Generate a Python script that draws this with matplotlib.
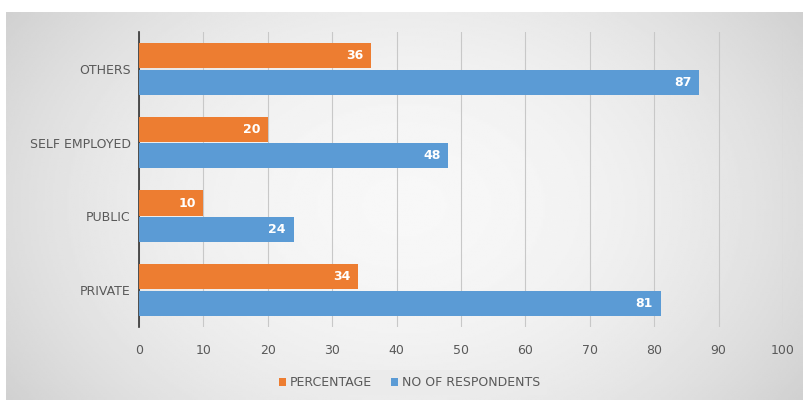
import matplotlib
matplotlib.use("Agg")
import matplotlib.pyplot as plt
import numpy as np

categories = ["PRIVATE", "PUBLIC", "SELF EMPLOYED", "OTHERS"]
percentage = [34, 10, 20, 36]
respondents = [81, 24, 48, 87]
xticks = [0, 10, 20, 30, 40, 50, 60, 70, 80, 90, 100]

plt.rcParams['font.family'] = ['Liberation Sans Narrow', 'DejaVu Sans']

orange = "#ED7D31"
blue = "#5B9BD5"

fig = plt.figure(figsize=(8.06, 4.05), dpi=100)
fig.patch.set_facecolor("white")

# gradient backdrop of the chart area
bg = fig.add_axes([0.008, 0.012, 0.988, 0.958])
yy, xx = np.mgrid[-1:1:200j, -1:1:400j]
r = np.sqrt((xx * 0.9) ** 2 + (yy * 0.6) ** 2)
shade = 0.97 - 0.13 * np.clip(r, 0, 1.3) ** 2
bg.imshow(shade, cmap="gray", vmin=0, vmax=1, aspect="auto", extent=[0, 1, 0, 1])
bg.set_axis_off()

ax = fig.add_axes([0.1725, 0.193, 0.799, 0.728])
ax.patch.set_alpha(0)

y = np.arange(len(categories))
h = 0.34
bo = ax.barh(y + h / 2 + 0.01, percentage, height=h, color=orange, label="PERCENTAGE", zorder=3)
bb = ax.barh(y - h / 2 - 0.01, respondents, height=h, color=blue, label="NO OF RESPONDENTS", zorder=3)

for bars in (bo, bb):
    for rect in bars:
        w = rect.get_width()
        ax.text(w - 1.2, rect.get_y() + rect.get_height() / 2, f"{int(w)}",
                ha="right", va="center", color="white", fontsize=9, fontweight="bold", zorder=4)

ax.set_xlim(0, 100)
ax.set_ylim(-0.5, len(categories) - 0.5)
ax.set_xticks(xticks)
ax.set_yticks(y)
ax.set_yticklabels(categories)
ax.tick_params(axis="both", length=0, labelsize=9, colors="#595959", pad=6)
ax.tick_params(axis="x", pad=12)
ax.xaxis.grid(True, color="#C8C8C8", linewidth=0.8, zorder=0)
for s in ("top", "right", "bottom"):
    ax.spines[s].set_visible(False)
ax.spines["left"].set_color("#333333")
ax.spines["left"].set_linewidth(1.2)

leg = fig.legend(handles=[bo, bb], loc="center", bbox_to_anchor=(0.508, 0.055), ncol=2,
                 frameon=True, fontsize=9, handlelength=0.6, handleheight=0.6,
                 handletextpad=0.3, columnspacing=1.5, borderpad=0.5)
leg.get_frame().set_facecolor("#EBEBEB")
leg.get_frame().set_edgecolor("none")
for t in leg.get_texts():
    t.set_color("#595959")

fig.savefig("out.png", dpi=100)
